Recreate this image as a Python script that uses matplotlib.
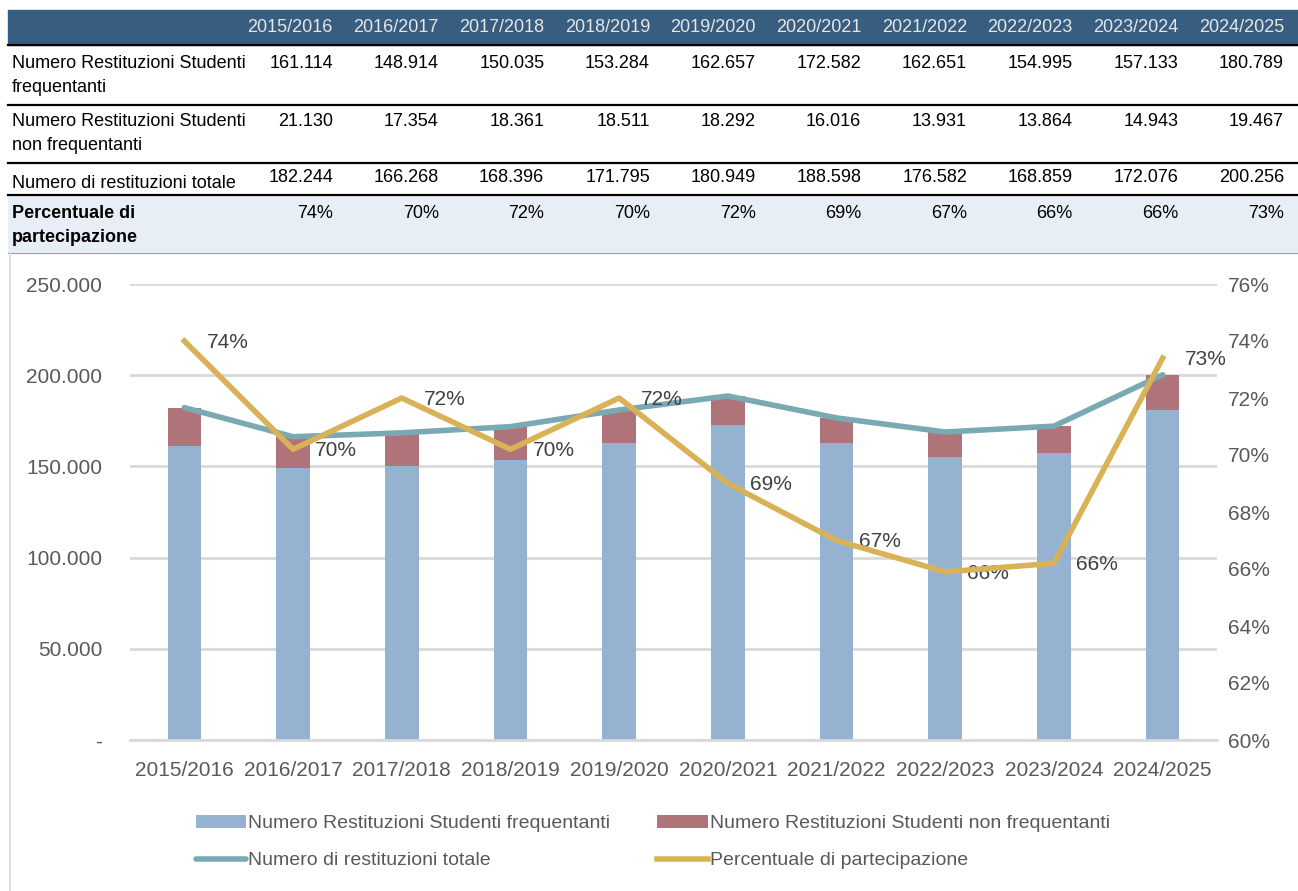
import numpy as np
import matplotlib.pyplot as plt
from matplotlib.patches import Rectangle

plt.rcParams['font.family'] = ['Liberation Sans Narrow', 'Liberation Sans', 'DejaVu Sans']

anni = ['2015/2016', '2016/2017', '2017/2018', '2018/2019', '2019/2020',
        '2020/2021', '2021/2022', '2022/2023', '2023/2024', '2024/2025']
frequentanti = [161114, 148914, 150035, 153284, 162657, 172582, 162651, 154995, 157133, 180789]
non_frequentanti = [21130, 17354, 18361, 18511, 18292, 16016, 13931, 13864, 14943, 19467]
totale = [182244, 166268, 168396, 171795, 180949, 188598, 176582, 168859, 172076, 200256]
percentuale = [74.0, 70.2, 72.0, 70.2, 72.0, 69.0, 67.0, 65.9, 66.2, 73.4]

c_freq = '#95B3D1'
c_non = '#AE747A'
c_tot = '#79A9B3'
c_perc = '#D9B257'
c_grid = '#D9D9D9'
c_txt = '#595959'

W, H = 1298, 891
fig = plt.figure(figsize=(W / 100, H / 100), dpi=100)


def fmt(v):
    return f'{v:,}'.replace(',', '.')


# ---- table on top (pixel coordinates) ----
tab = fig.add_axes([0, 0, 1, 1])
tab.set_xlim(0, W)
tab.set_ylim(H, 0)
tab.axis('off')

tab.add_patch(Rectangle((8, 10), W - 8, 35, color='#375D80', zorder=1))
tab.add_patch(Rectangle((8, 195), W - 8, 58, color='#E8EEF5', zorder=1))
for y in [45, 105, 163, 195]:
    tab.plot([8, W], [y, y], color='black', lw=1.6, zorder=2)
tab.plot([8, W], [253, 253], color='#A0A0A0', lw=0.8, zorder=2)

col_right = np.linspace(333, 1284, len(anni))
for xr, a in zip(col_right, anni):
    tab.text(xr, 28, a, ha='right', va='center', color='#E6E6E6', fontsize=13)

rows = [
    (['Numero Restituzioni Studenti', 'frequentanti'], [fmt(v) for v in frequentanti], 64, False),
    (['Numero Restituzioni Studenti', 'non frequentanti'], [fmt(v) for v in non_frequentanti], 122, False),
    (['Numero di restituzioni totale'], [fmt(v) for v in totale], 178, False),
    (['Percentuale di', 'partecipazione'], [f'{round(p):.0f}%' for p in percentuale], 213, True),
]
for labels, vals, y0, bold in rows:
    fw = 'bold' if bold else 'normal'
    if len(labels) == 1:
        tab.text(12, y0 + 5, labels[0], ha='left', va='center', fontsize=13, fontweight=fw)
    else:
        tab.text(12, y0, labels[0], ha='left', va='center', fontsize=13, fontweight=fw)
        tab.text(12, y0 + 24, labels[1], ha='left', va='center', fontsize=13, fontweight=fw)
    for xr, v in zip(col_right, vals):
        tab.text(xr, y0, v, ha='right', va='center', fontsize=13)

# chart border
tab.plot([10, 10], [253, H], color=c_grid, lw=1.2)

# ---- chart ----
ax_l, ax_r, ax_t, ax_b = 130, 1217, 284, 740
ax = fig.add_axes([ax_l / W, (H - ax_b) / H, (ax_r - ax_l) / W, (ax_b - ax_t) / H])
x = np.arange(len(anni))
b1 = ax.bar(x, frequentanti, width=0.31, color=c_freq, label='Numero Restituzioni Studenti frequentanti', zorder=2)
b2 = ax.bar(x, non_frequentanti, width=0.31, bottom=frequentanti, color=c_non,
            label='Numero Restituzioni Studenti non frequentanti', zorder=2)
l1, = ax.plot(x, totale, color=c_tot, lw=4, label='Numero di restituzioni totale', zorder=3,
              solid_capstyle='round')
ax.set_ylim(0, 250000)
ax.set_xlim(-0.5, len(anni) - 0.5)
ax.set_yticks(np.arange(0, 250001, 50000))
ax.set_yticklabels(['-'] + [fmt(v) for v in range(50000, 250001, 50000)])
ax.set_xticks(x)
ax.set_xticklabels(anni)
ax.yaxis.grid(True, color=c_grid, lw=2, zorder=0)
ax.set_axisbelow(True)
for s in ['top', 'right', 'left']:
    ax.spines[s].set_visible(False)
ax.spines['bottom'].set_color(c_grid)
ax.spines['bottom'].set_linewidth(2)
ax.tick_params(length=0, colors=c_txt, labelsize=15)
ax.tick_params(axis='y', pad=20)
ax.tick_params(axis='x', pad=15)

ax2 = ax.twinx()
l2, = ax2.plot(x, percentuale, color=c_perc, lw=4, label='Percentuale di partecipazione', zorder=4)
ax2.set_ylim(60, 76)
ax2.set_yticks(np.arange(60, 77, 2))
ax2.set_yticklabels([f'{v}%' for v in range(60, 77, 2)])
for s in ax2.spines.values():
    s.set_visible(False)
ax2.tick_params(length=0, colors=c_txt, labelsize=15, pad=8)
for xi, p in zip(x, percentuale):
    ax2.annotate(f'{round(p):.0f}%', (xi, p), xytext=(16, -1), textcoords='offset points',
                 ha='left', va='center', fontsize=15, color='#404040')

# legend fills column by column: put bars in first row, lines in second
handles = [b1, l1, b2, l2]
labels = [h.get_label() for h in handles]
fig.legend(handles, labels, loc='center', bbox_to_anchor=(0.503, (H - 842) / H), ncol=2,
           frameon=False, fontsize=14, labelcolor=c_txt, handlelength=2.6, handletextpad=0.1,
           columnspacing=2.4, labelspacing=1.0)

fig.savefig('out.png', dpi=100)
